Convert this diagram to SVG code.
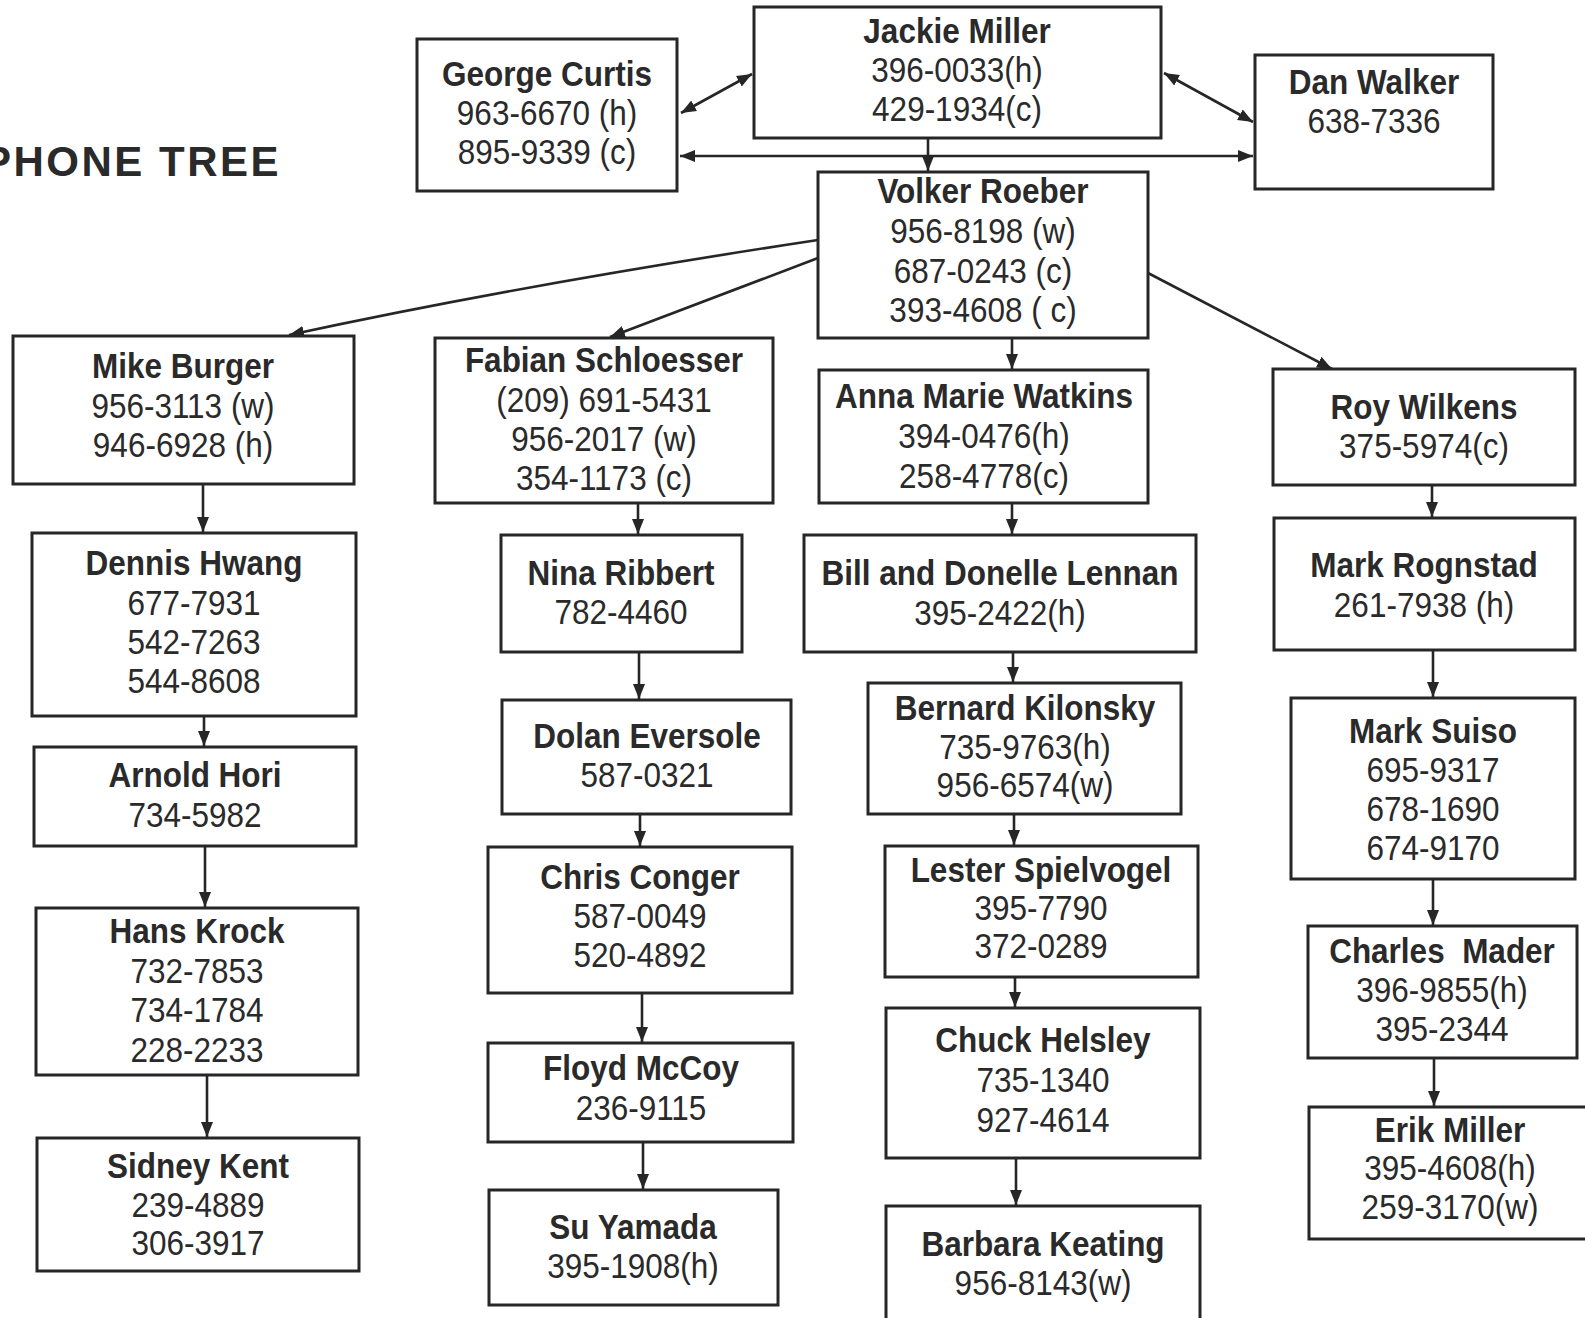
<svg xmlns="http://www.w3.org/2000/svg" width="1585" height="1318" viewBox="0 0 1585 1318">
<style>
.box{fill:#fff;stroke:#262626;stroke-width:3}
.t{font-family:"Liberation Sans",Arial,sans-serif;font-size:35px;fill:#2a2a2a;text-anchor:middle}
.n{font-weight:bold}
.c{fill:none;stroke:#262626;stroke-width:2.6}
.title{font-family:"Liberation Sans",Arial,sans-serif;font-size:42px;font-weight:bold;fill:#2a2a2a;letter-spacing:2.5px}
</style>
<defs>
<marker id="ah" markerUnits="userSpaceOnUse" markerWidth="16" markerHeight="14" refX="15" refY="6" orient="auto-start-reverse" viewBox="0 0 16 12">
<path d="M0,0 L15,6 L0,12 z" fill="#262626"/>
</marker>
</defs>
<rect width="1585" height="1318" fill="#fff"/>
<text class="title" x="-17" y="176">PHONE TREE</text>

<g id="connectors">
<path class="c" d="M681,113 L752,74" marker-start="url(#ah)" marker-end="url(#ah)"/>
<path class="c" d="M1164,73 L1253,122" marker-start="url(#ah)" marker-end="url(#ah)"/>
<path class="c" d="M680,156 L1253,156" marker-start="url(#ah)" marker-end="url(#ah)"/>
<path class="c" d="M928,138 L928,171" marker-end="url(#ah)"/>
<path class="c" d="M818,240 Q520,285 289,335" marker-end="url(#ah)"/>
<path class="c" d="M818,258 L610,337" marker-end="url(#ah)"/>
<path class="c" d="M1012,338 L1012,369" marker-end="url(#ah)"/>
<path class="c" d="M1148,273 L1332,369" marker-end="url(#ah)"/>
<path class="c" d="M203,484 L203,532" marker-end="url(#ah)"/>
<path class="c" d="M204,716 L204,746" marker-end="url(#ah)"/>
<path class="c" d="M205,846 L205,907" marker-end="url(#ah)"/>
<path class="c" d="M207,1075 L207,1137" marker-end="url(#ah)"/>
<path class="c" d="M638,503 L638,534" marker-end="url(#ah)"/>
<path class="c" d="M639,652 L639,699" marker-end="url(#ah)"/>
<path class="c" d="M640,814 L640,846" marker-end="url(#ah)"/>
<path class="c" d="M642,993 L642,1042" marker-end="url(#ah)"/>
<path class="c" d="M643,1142 L643,1189" marker-end="url(#ah)"/>
<path class="c" d="M1012,503 L1012,534" marker-end="url(#ah)"/>
<path class="c" d="M1013,652 L1013,682" marker-end="url(#ah)"/>
<path class="c" d="M1014,814 L1014,845" marker-end="url(#ah)"/>
<path class="c" d="M1015,977 L1015,1007" marker-end="url(#ah)"/>
<path class="c" d="M1016,1158 L1016,1205" marker-end="url(#ah)"/>
<path class="c" d="M1432,485 L1432,517" marker-end="url(#ah)"/>
<path class="c" d="M1433,650 L1433,697" marker-end="url(#ah)"/>
<path class="c" d="M1433,879 L1433,925" marker-end="url(#ah)"/>
<path class="c" d="M1434,1058 L1434,1106" marker-end="url(#ah)"/>
</g>

<g id="jackie"><rect class="box" x="754" y="7" width="407" height="131"/>
<g transform="translate(957 0) scale(0.9 1)"><text class="t n" x="0" y="43">Jackie Miller</text><text class="t" x="0" y="82">396-0033(h)</text><text class="t" x="0" y="121">429-1934(c)</text></g></g>

<g id="george"><rect class="box" x="417" y="39" width="260" height="152"/>
<g transform="translate(547 0) scale(0.9 1)"><text class="t n" x="0" y="86">George Curtis</text><text class="t" x="0" y="125">963-6670 (h)</text><text class="t" x="0" y="164">895-9339 (c)</text></g></g>

<g id="dan"><rect class="box" x="1255" y="55" width="238" height="134"/>
<g transform="translate(1374 0) scale(0.9 1)"><text class="t n" x="0" y="94">Dan Walker</text><text class="t" x="0" y="133">638-7336</text></g></g>

<g id="volker"><rect class="box" x="818" y="172" width="330" height="166"/>
<g transform="translate(983 0) scale(0.9 1)"><text class="t n" x="0" y="203">Volker Roeber</text><text class="t" x="0" y="243">956-8198 (w)</text><text class="t" x="0" y="283">687-0243 (c)</text><text class="t" x="0" y="322">393-4608 ( c)</text></g></g>

<g id="mike"><rect class="box" x="13" y="336" width="341" height="148"/>
<g transform="translate(183 0) scale(0.9 1)"><text class="t n" x="0" y="378">Mike Burger</text><text class="t" x="0" y="418">956-3113 (w)</text><text class="t" x="0" y="457">946-6928 (h)</text></g></g>

<g id="fabian"><rect class="box" x="435" y="338" width="338" height="165"/>
<g transform="translate(604 0) scale(0.9 1)"><text class="t n" x="0" y="372">Fabian Schloesser</text><text class="t" x="0" y="412">(209) 691-5431</text><text class="t" x="0" y="451">956-2017 (w)</text><text class="t" x="0" y="490">354-1173 (c)</text></g></g>

<g id="anna"><rect class="box" x="819" y="370" width="329" height="133"/>
<g transform="translate(984 0) scale(0.9 1)"><text class="t n" x="0" y="408">Anna Marie Watkins</text><text class="t" x="0" y="448">394-0476(h)</text><text class="t" x="0" y="488">258-4778(c)</text></g></g>

<g id="roy"><rect class="box" x="1273" y="369" width="302" height="116"/>
<g transform="translate(1424 0) scale(0.9 1)"><text class="t n" x="0" y="419">Roy Wilkens</text><text class="t" x="0" y="458">375-5974(c)</text></g></g>

<g id="dennis"><rect class="box" x="32" y="533" width="324" height="183"/>
<g transform="translate(194 0) scale(0.9 1)"><text class="t n" x="0" y="575">Dennis Hwang</text><text class="t" x="0" y="615">677-7931</text><text class="t" x="0" y="654">542-7263</text><text class="t" x="0" y="693">544-8608</text></g></g>

<g id="nina"><rect class="box" x="501" y="535" width="241" height="117"/>
<g transform="translate(621 0) scale(0.9 1)"><text class="t n" x="0" y="585">Nina Ribbert</text><text class="t" x="0" y="624">782-4460</text></g></g>

<g id="bill"><rect class="box" x="804" y="535" width="392" height="117"/>
<g transform="translate(1000 0) scale(0.9 1)"><text class="t n" x="0" y="585">Bill and Donelle Lennan</text><text class="t" x="0" y="625">395-2422(h)</text></g></g>

<g id="markr"><rect class="box" x="1274" y="518" width="301" height="132"/>
<g transform="translate(1424 0) scale(0.9 1)"><text class="t n" x="0" y="577">Mark Rognstad</text><text class="t" x="0" y="617">261-7938 (h)</text></g></g>

<g id="arnold"><rect class="box" x="34" y="747" width="322" height="99"/>
<g transform="translate(195 0) scale(0.9 1)"><text class="t n" x="0" y="787">Arnold Hori</text><text class="t" x="0" y="827">734-5982</text></g></g>

<g id="dolan"><rect class="box" x="502" y="700" width="289" height="114"/>
<g transform="translate(647 0) scale(0.9 1)"><text class="t n" x="0" y="748">Dolan Eversole</text><text class="t" x="0" y="787">587-0321</text></g></g>

<g id="bernard"><rect class="box" x="868" y="683" width="313" height="131"/>
<g transform="translate(1025 0) scale(0.9 1)"><text class="t n" x="0" y="720">Bernard Kilonsky</text><text class="t" x="0" y="759">735-9763(h)</text><text class="t" x="0" y="797">956-6574(w)</text></g></g>

<g id="marks"><rect class="box" x="1291" y="698" width="284" height="181"/>
<g transform="translate(1433 0) scale(0.9 1)"><text class="t n" x="0" y="743">Mark Suiso</text><text class="t" x="0" y="782">695-9317</text><text class="t" x="0" y="821">678-1690</text><text class="t" x="0" y="860">674-9170</text></g></g>

<g id="hans"><rect class="box" x="36" y="908" width="322" height="167"/>
<g transform="translate(197 0) scale(0.9 1)"><text class="t n" x="0" y="943">Hans Krock</text><text class="t" x="0" y="983">732-7853</text><text class="t" x="0" y="1022">734-1784</text><text class="t" x="0" y="1062">228-2233</text></g></g>

<g id="chris"><rect class="box" x="488" y="847" width="304" height="146"/>
<g transform="translate(640 0) scale(0.9 1)"><text class="t n" x="0" y="889">Chris Conger</text><text class="t" x="0" y="928">587-0049</text><text class="t" x="0" y="967">520-4892</text></g></g>

<g id="lester"><rect class="box" x="885" y="846" width="313" height="131"/>
<g transform="translate(1041 0) scale(0.9 1)"><text class="t n" x="0" y="882">Lester Spielvogel</text><text class="t" x="0" y="920">395-7790</text><text class="t" x="0" y="958">372-0289</text></g></g>

<g id="charles"><rect class="box" x="1308" y="926" width="269" height="132"/>
<g transform="translate(1442 0) scale(0.9 1)"><text class="t n" x="0" y="963" style="white-space:pre">Charles  Mader</text><text class="t" x="0" y="1002">396-9855(h)</text><text class="t" x="0" y="1041">395-2344</text></g></g>

<g id="floyd"><rect class="box" x="488" y="1043" width="305" height="99"/>
<g transform="translate(641 0) scale(0.9 1)"><text class="t n" x="0" y="1080">Floyd McCoy</text><text class="t" x="0" y="1120">236-9115</text></g></g>

<g id="chuck"><rect class="box" x="886" y="1008" width="314" height="150"/>
<g transform="translate(1043 0) scale(0.9 1)"><text class="t n" x="0" y="1052">Chuck Helsley</text><text class="t" x="0" y="1092">735-1340</text><text class="t" x="0" y="1132">927-4614</text></g></g>

<g id="erik"><rect class="box" x="1309" y="1107" width="283" height="132"/>
<g transform="translate(1450 0) scale(0.9 1)"><text class="t n" x="0" y="1142">Erik Miller</text><text class="t" x="0" y="1180">395-4608(h)</text><text class="t" x="0" y="1219">259-3170(w)</text></g></g>

<g id="sidney"><rect class="box" x="37" y="1138" width="322" height="133"/>
<g transform="translate(198 0) scale(0.9 1)"><text class="t n" x="0" y="1178">Sidney Kent</text><text class="t" x="0" y="1217">239-4889</text><text class="t" x="0" y="1255">306-3917</text></g></g>

<g id="su"><rect class="box" x="489" y="1190" width="289" height="115"/>
<g transform="translate(633 0) scale(0.9 1)"><text class="t n" x="0" y="1239">Su Yamada</text><text class="t" x="0" y="1278">395-1908(h)</text></g></g>

<g id="barbara"><rect class="box" x="886" y="1206" width="314" height="124"/>
<g transform="translate(1043 0) scale(0.9 1)"><text class="t n" x="0" y="1256">Barbara Keating</text><text class="t" x="0" y="1295">956-8143(w)</text></g></g>
</svg>
